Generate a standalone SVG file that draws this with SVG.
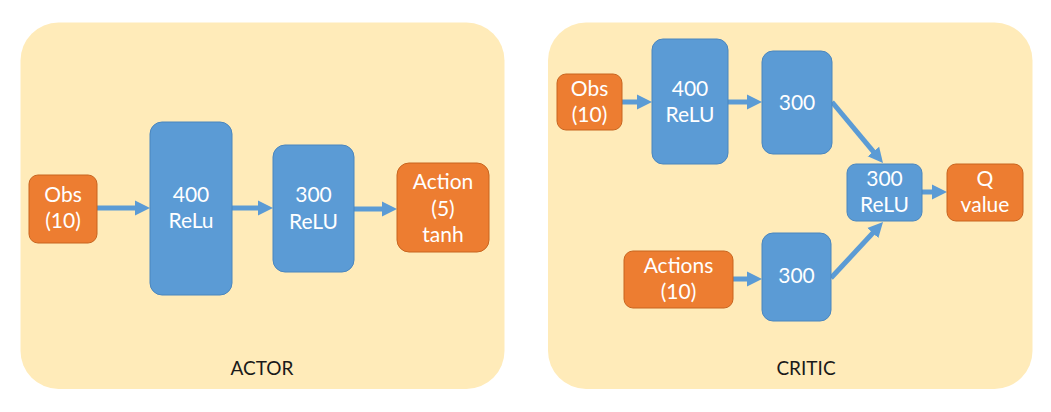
<svg xmlns="http://www.w3.org/2000/svg" width="1051" height="412" viewBox="0 0 1051 412">
<style>
.panel{fill:#FFEBB9;}
.or{fill:#ED7D31;stroke:#C8651F;stroke-width:1;}
.bl{fill:#5B9BD5;stroke:#4A86BE;stroke-width:1;}
.t{font-family:Lato,"Open Sans","Liberation Sans",sans-serif;font-size:21px;fill:#FFFFFF;text-anchor:middle;}
.lbl{font-family:Lato,"Open Sans","Liberation Sans",sans-serif;font-size:19px;fill:#1A1A1A;text-anchor:middle;}
.ar{stroke:#5B9BD5;stroke-width:5;fill:none;marker-end:url(#ah);}
</style>
<defs>
<marker id="ah" markerUnits="userSpaceOnUse" markerWidth="16" markerHeight="16" viewBox="0 0 16 16" refX="1" refY="8" orient="auto">
<path d="M0,0.5 L15,8 L0,15.5 z" fill="#5B9BD5"/>
</marker>
</defs>
<g id="actor-panel">
<rect class="panel" x="20.5" y="22.5" width="484" height="366.5" rx="38"/>
<text class="lbl" x="262" y="375">ACTOR</text>
</g>
<g id="critic-panel">
<rect class="panel" x="548" y="22.5" width="484.5" height="366.5" rx="38"/>
<text class="lbl" x="806" y="375">CRITIC</text>
</g>
<g id="connectors">
<line class="ar" x1="97" y1="208" x2="136" y2="208"/>
<line class="ar" x1="232" y1="208" x2="259" y2="208"/>
<line class="ar" x1="354" y1="209" x2="383" y2="209"/>
<line class="ar" x1="622" y1="102" x2="638" y2="102"/>
<line class="ar" x1="728" y1="102" x2="748" y2="102"/>
<line class="ar" x1="733" y1="279" x2="748" y2="279"/>
<line class="ar" x1="922" y1="192" x2="933" y2="192"/>
<line class="ar" x1="832" y1="102" x2="874" y2="152.3"/>
<line class="ar" x1="831" y1="278" x2="873.5" y2="232.3"/>
</g>
<g id="actor-obs">
<rect class="or" x="29" y="175" width="68" height="68" rx="9"/>
<text class="t" x="63" y="202">Obs</text>
<text class="t" x="63" y="228">(10)</text>
</g>
<g id="actor-400">
<rect class="bl" x="150" y="122" width="82" height="173" rx="12"/>
<text class="t" x="191" y="202">400</text>
<text class="t" x="191" y="228">ReLu</text>
</g>
<g id="actor-300">
<rect class="bl" x="273" y="145" width="81" height="127" rx="12"/>
<text class="t" x="313.5" y="202">300</text>
<text class="t" x="313.5" y="229">ReLU</text>
</g>
<g id="actor-action">
<rect class="or" x="397" y="163" width="92" height="89" rx="12"/>
<text class="t" x="443" y="189">Action</text>
<text class="t" x="443" y="216">(5)</text>
<text class="t" x="443" y="242">tanh</text>
</g>
<g id="critic-obs">
<rect class="or" x="557" y="74" width="65" height="56" rx="9"/>
<text class="t" x="589.5" y="96">Obs</text>
<text class="t" x="589.5" y="122">(10)</text>
</g>
<g id="critic-400">
<rect class="bl" x="652" y="39" width="76" height="125" rx="11"/>
<text class="t" x="690" y="96">400</text>
<text class="t" x="690" y="122">ReLU</text>
</g>
<g id="critic-300-top">
<rect class="bl" x="762" y="51" width="70" height="103" rx="11"/>
<text class="t" x="797" y="110">300</text>
</g>
<g id="critic-actions">
<rect class="or" x="624" y="251" width="109" height="57" rx="9"/>
<text class="t" x="678.5" y="273">Actions</text>
<text class="t" x="678.5" y="299">(10)</text>
</g>
<g id="critic-300-bottom">
<rect class="bl" x="762" y="233" width="69" height="88" rx="11"/>
<text class="t" x="796.5" y="283">300</text>
</g>
<g id="critic-300-relu">
<rect class="bl" x="847" y="164" width="75" height="57" rx="9"/>
<text class="t" x="884.5" y="186">300</text>
<text class="t" x="884.5" y="212">ReLU</text>
</g>
<g id="critic-q">
<rect class="or" x="947" y="164" width="76" height="57" rx="9"/>
<text class="t" x="985" y="186">Q</text>
<text class="t" x="985" y="212">value</text>
</g>
</svg>
